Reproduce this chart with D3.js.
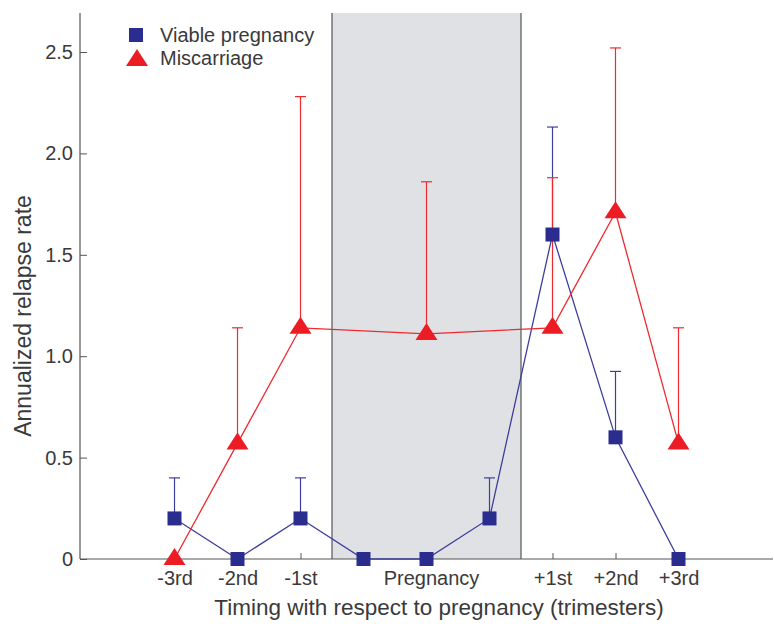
<!DOCTYPE html>
<html><head><meta charset="utf-8">
<script src="https://cdn.jsdelivr.net/npm/d3@7"></script>
<style>body{margin:0;background:#fff}svg{display:block}text{font-family:"Liberation Sans",Arial,sans-serif;fill:#3a3a3a}</style>
</head><body>
<script>
const tickLabels = ["-3rd","-2nd","-1st","+1st","+2nd","+3rd"];
const tickIdx = [0,1,2,6,7,8];
const pregnancyLabel = "Pregnancy";
const viableIdx = [0,1,2,3,4,5,6,7,8];
const viableVal = [0.2,0,0.2,0,0,0.2,1.6,0.6,0];
const viableUpper = [0.4,null,0.4,null,null,0.4,2.13,0.925,null];
const miscIdx = [0,1,2,4,6,7,8];
const miscVal = [0,0.57,1.14,1.11,1.14,1.71,0.57];
const miscUpper = [null,1.14,2.28,1.86,1.88,2.52,1.14];
const yTicks = [0,0.5,1.0,1.5,2.0,2.5];

const W=774,H=624;
const svg=d3.select("body").append("svg").attr("width",W).attr("height",H);
const x=d3.scaleLinear().domain([-1.5,9.5]).range([80,773]);
const y=d3.scaleLinear().domain([0,2.5]).range([559,52]);
const blue="#2b2d8e", blueLine="#3d3f9e", red="#ec1c24", redLine="#ee2a2f";

// shaded pregnancy region
svg.append("rect").attr("x",x(2.5)).attr("y",13).attr("width",x(5.5)-x(2.5)).attr("height",y(0)-13)
  .attr("fill","#dfe1e4");
[2.5,5.5].forEach(v=>svg.append("line").attr("x1",x(v)).attr("x2",x(v)).attr("y1",13).attr("y2",y(0))
  .attr("stroke","#555").attr("stroke-width",1.2));

// axes
const yAxis=d3.axisLeft(y).tickValues(yTicks).tickSize(-7).tickPadding(7)
  .tickFormat(d=>d===0?"0":d3.format(".1f")(d));
const gy=svg.append("g").attr("transform","translate(80,0)").call(yAxis);
gy.select(".domain").remove();
gy.selectAll("line").attr("stroke","#555");
gy.selectAll("text").style("font-size","20px").attr("fill","#3a3a3a");
svg.append("line").attr("x1",80).attr("x2",80).attr("y1",13).attr("y2",559).attr("stroke","#555").attr("stroke-width",1.2);

const xAxis=d3.axisBottom(x).tickValues(tickIdx).tickSize(-6).tickPadding(12)
  .tickFormat((d,i)=>tickLabels[i]);
const gx=svg.append("g").attr("transform","translate(0,559)").call(xAxis);
gx.select(".domain").remove();
gx.selectAll("line").attr("stroke","#555");
gx.selectAll("text").style("font-size","20px").attr("fill","#3a3a3a");
svg.append("line").attr("x1",80).attr("x2",773).attr("y1",559).attr("y2",559).attr("stroke","#555").attr("stroke-width",1.2);
svg.append("text").attr("x",x(4.08)).attr("y",585).attr("text-anchor","middle").style("font-size","20px").text(pregnancyLabel);

// titles
svg.append("text").attr("x",439).attr("y",615).attr("text-anchor","middle").style("font-size","22.5px")
  .text("Timing with respect to pregnancy (trimesters)");
svg.append("text").attr("transform","translate(31,316) rotate(-90)").attr("text-anchor","middle").style("font-size","23px")
  .text("Annualized relapse rate");

// series helpers
const line=d3.line().x(d=>x(d[0])).y(d=>y(d[1]));
function errBars(idx,vals,ups,col){
  idx.forEach((ix,i)=>{ if(ups[i]==null) return;
    svg.append("line").attr("x1",x(ix)).attr("x2",x(ix)).attr("y1",y(vals[i])).attr("y2",y(ups[i])).attr("stroke",col).attr("stroke-width",1.2);
    svg.append("line").attr("x1",x(ix)-5.5).attr("x2",x(ix)+5.5).attr("y1",y(ups[i])).attr("y2",y(ups[i])).attr("stroke",col).attr("stroke-width",1.2);
  });
}
const vPts=viableIdx.map((ix,i)=>[ix,viableVal[i]]);
const mPts=miscIdx.map((ix,i)=>[ix,miscVal[i]]);
svg.append("path").attr("d",line(vPts)).attr("fill","none").attr("stroke",blueLine).attr("stroke-width",1.3);
errBars(viableIdx,viableVal,viableUpper,blueLine);
svg.append("path").attr("d",line(mPts)).attr("fill","none").attr("stroke",redLine).attr("stroke-width",1.3);
errBars(miscIdx,miscVal,miscUpper,redLine);

function tri(cx,cy){return `M${cx},${cy-11}L${cx+11},${cy+6}L${cx-11},${cy+6}Z`;}
vPts.forEach(p=>svg.append("rect").attr("x",x(p[0])-7).attr("y",y(p[1])-7).attr("width",14).attr("height",14).attr("fill",blue));
mPts.forEach(p=>svg.append("path").attr("d",tri(x(p[0]),y(p[1]))).attr("fill",red));

// legend
svg.append("rect").attr("x",129).attr("y",28).attr("width",14).attr("height",14).attr("fill",blue);
svg.append("text").attr("x",160).attr("y",42).style("font-size","20px").text("Viable pregnancy");
svg.append("path").attr("d",tri(137,60)).attr("fill",red);
svg.append("text").attr("x",160).attr("y",65).style("font-size","20px").text("Miscarriage");
</script>
</body></html>
